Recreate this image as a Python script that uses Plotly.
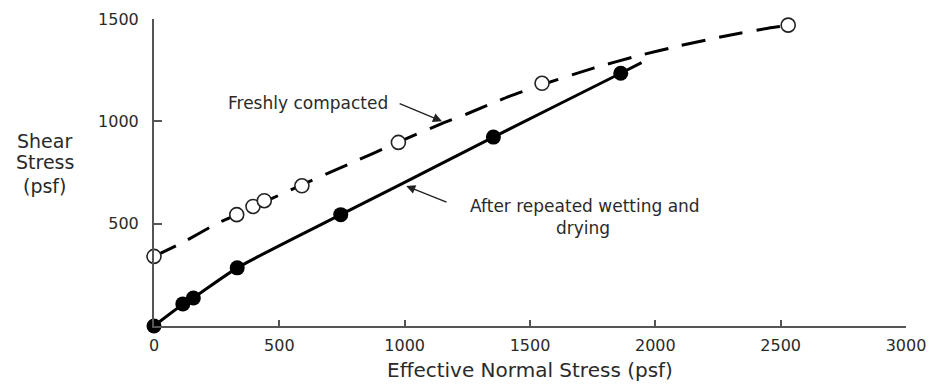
import plotly.graph_objects as go

# Measured data points
fresh_x = [0, 330, 395, 440, 590, 975, 1548, 2530]
fresh_y = [340, 544, 584, 612, 685, 897, 1186, 1470]
wet_x = [0, 115, 157, 332, 745, 1354, 1862]
wet_y = [0, 108, 137, 284, 544, 923, 1235]

# Curves
fresh_curve_x = [0, 116, 255, 330, 590, 750, 1000, 1150, 1250, 1415, 1550, 1750, 1927, 2100, 2280, 2450, 2530]
fresh_curve_y = [340, 409, 503, 544, 690, 776, 912, 990, 1037, 1121, 1180, 1259, 1319, 1370, 1417, 1455, 1468]
wet_curve_x = [0, 115, 160, 332, 745, 1000, 1354, 1862, 1945]
wet_curve_y = [0, 106, 140, 284, 544, 702, 923, 1235, 1287]

x_ticks = [0, 500, 1000, 1500, 2000, 2500, 3000]
y_ticks = [500, 1000, 1500]

FONT = "DejaVu Sans, Liberation Sans, Arial, sans-serif"
TXT = "#2a2a2a"
AX = "#555555"

fig = go.Figure()
fig.add_trace(go.Scatter(x=fresh_curve_x, y=fresh_curve_y, mode="lines",
                         line=dict(color="black", width=3, dash="24px,14px", shape="spline", smoothing=0.6),
                         hoverinfo="skip", cliponaxis=False))
fig.add_trace(go.Scatter(x=wet_curve_x, y=wet_curve_y, mode="lines",
                         line=dict(color="black", width=3, shape="spline", smoothing=0.6),
                         hoverinfo="skip", cliponaxis=False))
fig.add_trace(go.Scatter(x=fresh_x, y=fresh_y, mode="markers",
                         marker=dict(symbol="circle", size=14, color="white",
                                     line=dict(color="#222222", width=1.6)),
                         cliponaxis=False))
fig.add_trace(go.Scatter(x=wet_x, y=wet_y, mode="markers",
                         marker=dict(symbol="circle", size=15, color="black",
                                     line=dict(color="black", width=0)),
                         cliponaxis=False))

# Arrows and labels
fig.add_annotation(x=1149, y=1000, ax=974, ay=1090, xref="x", yref="y", axref="x", ayref="y",
                   text="", showarrow=True, arrowhead=2, arrowsize=1.3, arrowwidth=1.4, arrowcolor="#222222",
                   standoff=0, startstandoff=0)
fig.add_annotation(x=975, y=1092, xref="x", yref="y", text="Freshly compacted", showarrow=False,
                   xanchor="right", yanchor="middle", xshift=-8,
                   font=dict(family=FONT, size=17, color=TXT))
fig.add_annotation(x=1006, y=684, ax=1173, ay=602, xref="x", yref="y", axref="x", ayref="y",
                   text="", showarrow=True, arrowhead=2, arrowsize=1.3, arrowwidth=1.4, arrowcolor="#222222",
                   standoff=0, startstandoff=0)
fig.add_annotation(x=1720, y=586, xref="x", yref="y",
                   text="After repeated wetting and", showarrow=False,
                   xanchor="center", yanchor="middle",
                   font=dict(family=FONT, size=17, color=TXT))
fig.add_annotation(x=1712, y=478, xref="x", yref="y",
                   text="drying", showarrow=False,
                   xanchor="center", yanchor="middle",
                   font=dict(family=FONT, size=17, color=TXT))

# Axis titles
for txt, py in [("Shear", 0.603), ("Stress", 0.534), ("(psf)", 0.457)]:
    fig.add_annotation(x=-0.145, y=py, xref="paper", yref="paper",
                       text=txt, showarrow=False,
                       xanchor="center", yanchor="middle",
                       font=dict(family=FONT, size=19, color=TXT))
fig.add_annotation(x=0.5, y=-0.143, xref="paper", yref="paper",
                   text="Effective Normal Stress (psf)", showarrow=False,
                   xanchor="center", yanchor="middle",
                   font=dict(family=FONT, size=20, color=TXT))

fig.update_xaxes(range=[0, 3000], tickvals=x_ticks, ticktext=[str(v) for v in x_ticks],
                 showgrid=False, zeroline=False, showline=True, linecolor=AX, linewidth=2,
                 ticks="inside", ticklen=6, tickwidth=2, tickcolor=AX, ticklabelstandoff=4,
                 automargin=False,
                 tickfont=dict(family=FONT, size=16, color=TXT))
fig.update_yaxes(range=[0, 1500], tickvals=y_ticks, ticktext=[str(v) for v in y_ticks],
                 showgrid=False, zeroline=False, showline=True, linecolor=AX, linewidth=2,
                 ticks="inside", ticklen=8, tickwidth=2, tickcolor=AX, ticklabelstandoff=10,
                 automargin=False,
                 tickfont=dict(family=FONT, size=16, color=TXT))

fig.update_layout(width=932, height=384, margin=dict(l=154, r=26, t=19, b=58, autoexpand=False),
                  paper_bgcolor="white", plot_bgcolor="white", showlegend=False)

fig.write_html("out.html")
